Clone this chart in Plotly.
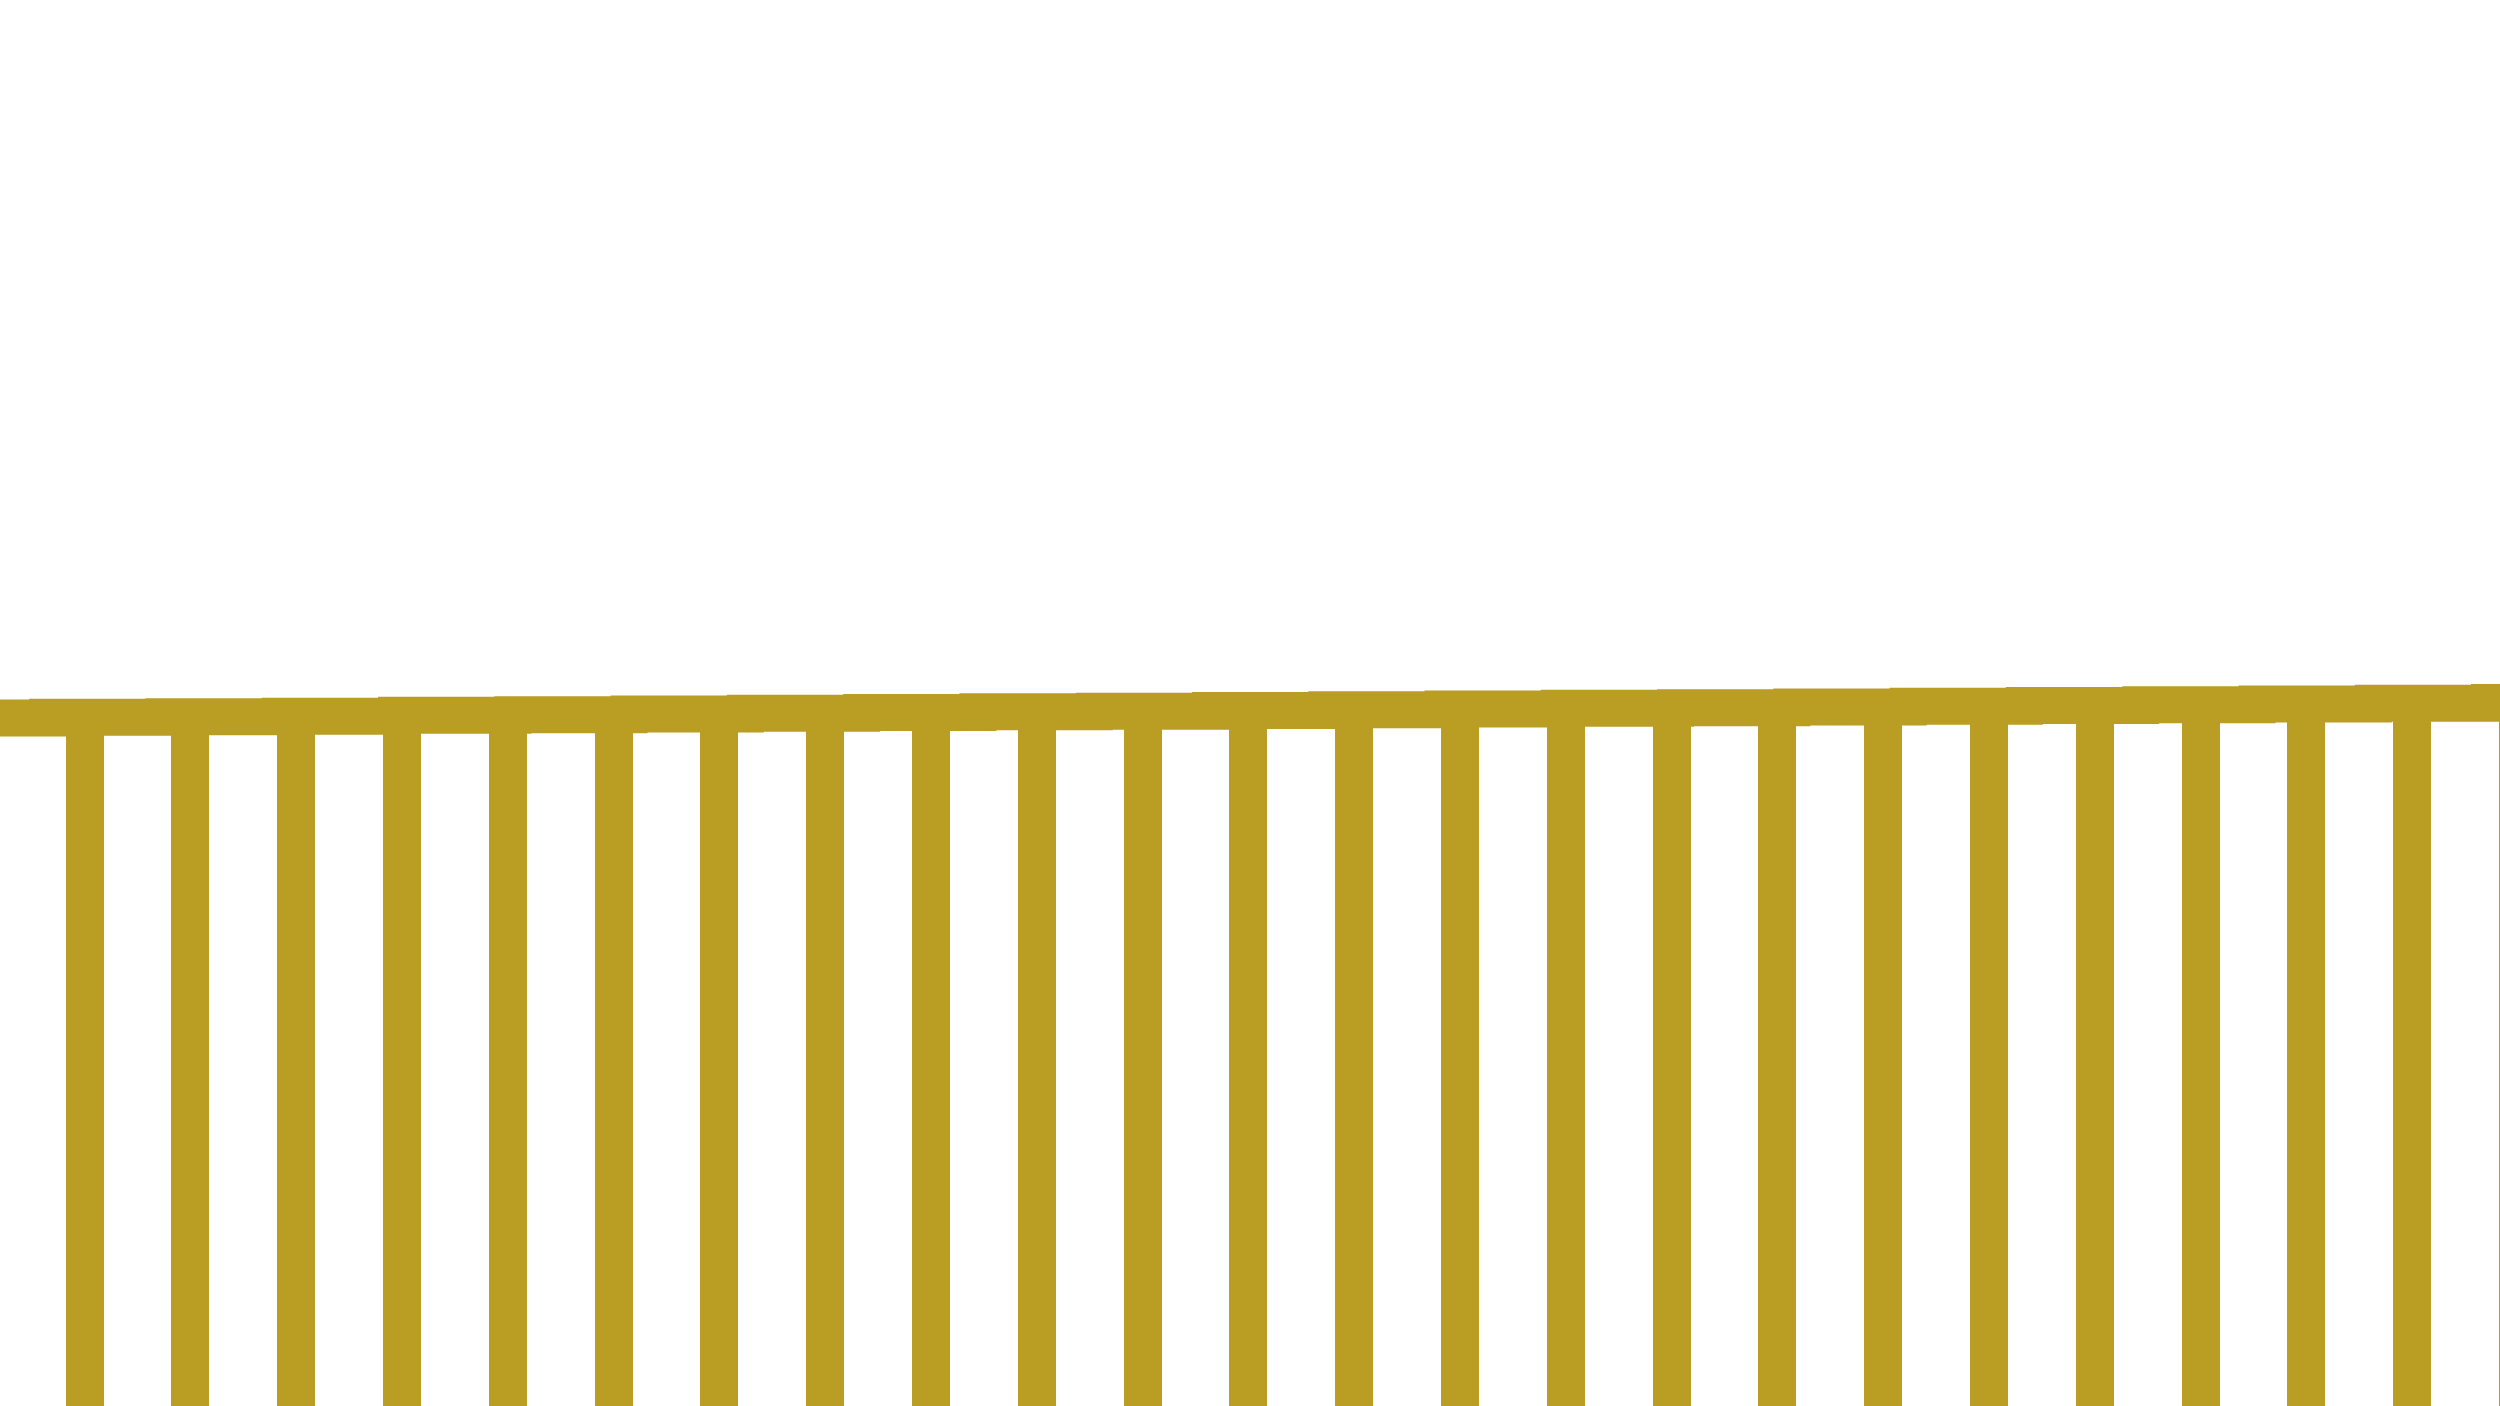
"""Gold bars hanging under a thick, slowly rising step line."""

import plotly.graph_objects as go

GOLD = "#BA9D23"

# Bars: one per slot, the last one only just peeks in at the right edge
bar_x = list(range(24))
bar_values = [
    48.95, 49.00, 49.05, 49.10, 49.15, 49.19, 49.24, 49.28,
    49.33, 49.37, 49.42, 49.46, 49.51, 49.55, 49.60, 49.64,
    49.69, 49.73, 49.78, 49.82, 49.87, 49.91, 49.96, 50.00,
]

# Step line: value held from each step position to the next
line_x = [-0.5] + list(range(22)) + [21.5]
line_values = [
    48.93, 48.98, 49.02, 49.05, 49.12, 49.17, 49.22, 49.27,
    49.32, 49.37, 49.42, 49.47, 49.52, 49.57, 49.62, 49.67,
    49.72, 49.77, 49.82, 49.87, 49.92, 49.98, 50.04, 50.04,
]

fig = go.Figure()

fig.add_trace(
    go.Bar(
        x=bar_x,
        y=bar_values,
        width=0.36,
        marker=dict(color=GOLD, line=dict(width=0)),
        showlegend=False,
        hoverinfo="skip",
    )
)

fig.add_trace(
    go.Scatter(
        x=line_x,
        y=line_values,
        xaxis="x2",
        mode="lines",
        line=dict(color=GOLD, width=37, shape="hv"),
        showlegend=False,
        hoverinfo="skip",
    )
)

axis_off = dict(visible=False, showgrid=False, zeroline=False, fixedrange=True)

fig.update_layout(
    width=2500,
    height=1406,
    margin=dict(l=0, r=0, t=0, b=0),
    paper_bgcolor="white",
    plot_bgcolor="white",
    xaxis=dict(range=[-0.8, 22.83], **axis_off),
    xaxis2=dict(range=[-0.41, 21.09], overlaying="x", **axis_off),
    yaxis=dict(range=[0, 100], **axis_off),
    bargap=0,
)

# drop the browser's default body margin so the plot sits flush in the window
fig.write_html(
    "out.html",
    config={"displayModeBar": False},
    post_script="document.body.style.margin = '0';",
)
